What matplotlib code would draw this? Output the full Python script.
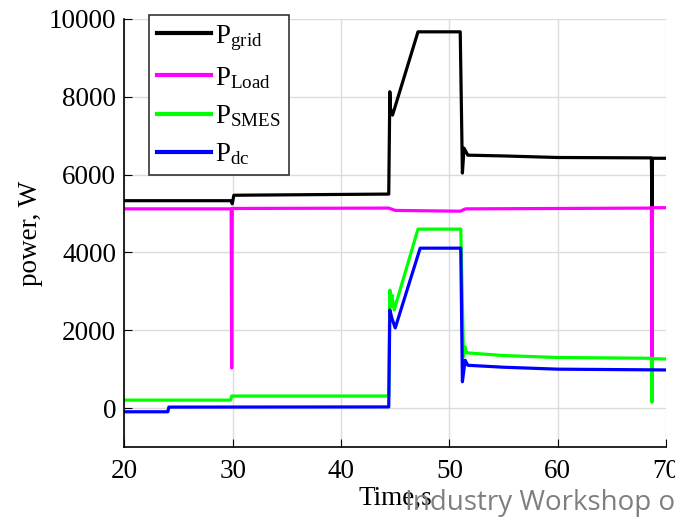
import numpy as np
import matplotlib.pyplot as plt

plt.rcParams['font.family'] = ['Liberation Serif', 'DejaVu Serif']
plt.rcParams['mathtext.fontset'] = 'custom'
plt.rcParams['mathtext.rm'] = 'Liberation Serif'
plt.rcParams['mathtext.it'] = 'Liberation Serif:italic'

# Datos (tiempo en s, potencia en W)
t_grid = [20, 29.85, 29.95, 30.1, 44.4, 44.5, 44.55, 44.75, 47.1, 51.0, 51.2, 51.35, 51.7, 55, 60, 68.65, 68.7, 68.75, 70]
p_grid = [5330, 5330, 5250, 5470, 5500, 8130, 7700, 7530, 9670, 9670, 6040, 6680, 6500, 6480, 6440, 6430, 5150, 6420, 6420]

t_load = [20, 29.85, 29.9, 29.95, 44.4, 45.0, 51.0, 51.5, 68.65, 68.7, 68.75, 70]
p_load = [5120, 5120, 1030, 5130, 5140, 5080, 5060, 5120, 5140, 1300, 5150, 5150]

t_smes = [20, 29.8, 29.9, 44.4, 44.5, 44.6, 44.7, 44.9, 47.1, 51.05, 51.3, 51.45, 51.6, 55, 60, 68.65, 68.7, 68.75, 70]
p_smes = [205, 205, 310, 310, 3030, 2600, 2900, 2520, 4600, 4600, 1320, 1575, 1420, 1350, 1300, 1280, 150, 1270, 1260]

t_dc = [20, 24.0, 24.1, 44.4, 44.5, 44.7, 45.0, 47.3, 51.05, 51.2, 51.45, 51.7, 55, 60, 70]
p_dc = [-95, -95, 25, 30, 2520, 2300, 2060, 4110, 4110, 676, 1230, 1100, 1050, 1000, 980]

fig = plt.figure(figsize=(6.75, 5.2), dpi=100)
ax = fig.add_axes([0.1844, 0.1404, 0.8023, 0.8231])

lw = 2.3
ax.plot(t_grid, p_grid, color='black', lw=lw, label=r'P$_{\mathrm{grid}}$')
ax.plot(t_load, p_load, color='#ff00ff', lw=lw, label=r'P$_{\mathrm{Load}}$')
ax.plot(t_smes, p_smes, color='#00ff00', lw=lw, label=r'P$_{\mathrm{SMES}}$')
ax.plot(t_dc, p_dc, color='#0000ff', lw=lw, label=r'P$_{\mathrm{dc}}$')

ax.set_xlim(20, 70)
ax.set_ylim(-1000, 10000)
ax.set_xticks([20, 30, 40, 50, 60, 70])
ax.set_yticks([0, 2000, 4000, 6000, 8000, 10000])
ax.grid(True, color='#dcdcdc', lw=1)
ax.set_axisbelow(True)
for s in ['top', 'right']:
    ax.spines[s].set_visible(False)
ax.spines['left'].set_linewidth(1.2)
ax.spines['bottom'].set_linewidth(1.2)
ax.tick_params(direction='in', length=6, labelsize=19.5, colors='black', pad=9)
ax.tick_params(axis='y', pad=6)

ax.set_ylabel('power, W', fontsize=19.5, labelpad=4)
ax.set_xlabel('Time,s', fontsize=19.5, labelpad=1)

leg = ax.legend(loc='upper left', bbox_to_anchor=(149/675, 1-15/520), bbox_transform=fig.transFigure,
                borderaxespad=0, fontsize=19.5, handlelength=2.0, handletextpad=0.15,
                labelspacing=0.45, borderpad=0.3, fancybox=False, framealpha=1)
leg.get_frame().set_edgecolor('#333333')
leg.get_frame().set_linewidth(1.2)
for h in leg.get_lines():
    h.set_linewidth(3)

fig.text(405/675, 1-510/520, 'Industry Workshop o', fontsize=20, color='#7f7f7f',
         family=['Open Sans', 'DejaVu Sans'], ha='left', va='baseline')

fig.savefig('out.png', dpi=100)
